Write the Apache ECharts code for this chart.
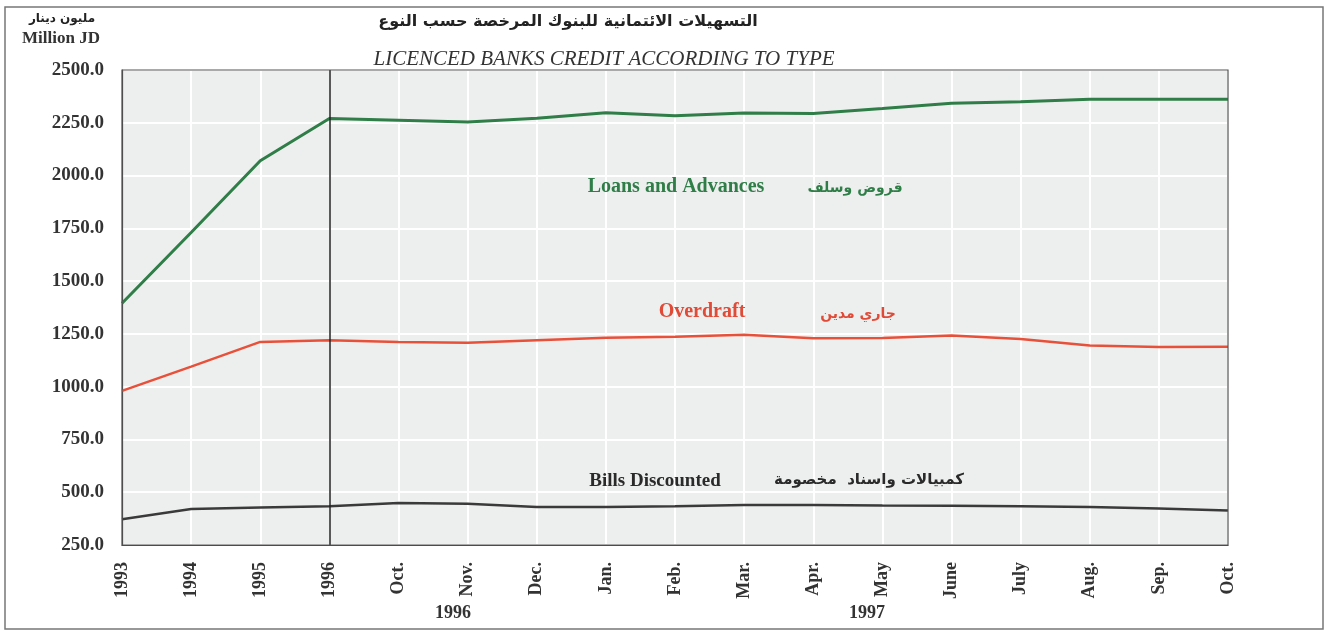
<!DOCTYPE html>
<html>
<head>
<meta charset="utf-8">
<script src="https://cdn.jsdelivr.net/npm/echarts@6/dist/echarts.min.js"></script>
<style>html,body{margin:0;padding:0;background:#fff;}#c{width:1330px;height:631px;}</style>
</head>
<body>
<div id="c"></div>
<script>
const categories = ['1993','1994','1995','1996','Oct.','Nov.','Dec.','Jan.','Feb.','Mar.','Apr.','May','June','July','Aug.','Sep.','Oct.'];
const loansAdvances = [1395, 1730, 2070, 2270, 2262, 2254, 2272, 2298, 2283, 2296, 2294, 2318, 2343, 2350, 2362, 2362, 2362];
const overdraft = [980, 1095, 1212, 1220, 1211, 1208, 1220, 1232, 1236, 1246, 1229, 1231, 1242, 1226, 1195, 1188, 1189];
const billsDiscounted = [372, 420, 428, 433, 449, 445, 430, 430, 434, 439, 439, 437, 436, 434, 430, 423, 414];
const yTicks = {min: 250, max: 2500, interval: 250};

const serif = '"Liberation Serif", "Times New Roman", serif';
const arabic = '"DejaVu Sans", sans-serif';
const chart = echarts.init(document.getElementById('c'));
const T = (x, y, text, font, fill) => ({type: 'text', x, y, z: 100, style: {text, font, fill, align: 'center', verticalAlign: 'middle'}});
chart.setOption({
  animation: false,
  backgroundColor: '#ffffff',
  grid: {left: 122, right: 102, top: 70, bottom: 86, show: true, backgroundColor: '#edefee', borderWidth: 0},
  xAxis: {
    type: 'category', data: categories, boundaryGap: false,
    axisLine: {lineStyle: {color: '#444', width: 1.2}},
    axisTick: {show: false},
    axisLabel: {rotate: 90, margin: 17, color: '#333', fontFamily: serif, fontWeight: 'bold', fontSize: 18, interval: 0},
    splitLine: {show: true, lineStyle: {color: '#ffffff', width: 2}}
  },
  yAxis: {
    type: 'value', min: yTicks.min, max: yTicks.max, interval: yTicks.interval,
    axisLine: {show: true, lineStyle: {color: '#444', width: 1.2}},
    axisTick: {show: false},
    axisLabel: {margin: 18, color: '#333', fontFamily: serif, fontWeight: 'bold', fontSize: 19, formatter: v => v.toFixed(1)},
    splitLine: {show: true, lineStyle: {color: '#ffffff', width: 2}}
  },
  series: [
    {name: 'Loans and Advances', type: 'line', data: loansAdvances, symbol: 'none', lineStyle: {color: '#2f7d47', width: 3}, itemStyle: {color: '#2f7d47'},
     markLine: {silent: true, symbol: 'none', label: {show: false}, lineStyle: {color: '#222', width: 1.5, type: 'solid'}, data: [{xAxis: '1996'}]}},
    {name: 'Overdraft', type: 'line', data: overdraft, symbol: 'none', lineStyle: {color: '#e8503a', width: 2.5}, itemStyle: {color: '#e8503a'}},
    {name: 'Bills Discounted', type: 'line', data: billsDiscounted, symbol: 'none', lineStyle: {color: '#3a3a3a', width: 2.5}, itemStyle: {color: '#3a3a3a'}}
  ],
  graphic: [
    {type: 'rect', shape: {x: 5, y: 7, width: 1318, height: 622}, style: {fill: 'none', stroke: '#777', lineWidth: 1.5}, z: -1},
    {type: 'rect', shape: {x: 122, y: 70, width: 1106, height: 475}, style: {fill: 'none', stroke: '#555', lineWidth: 1.2}, z: 50, silent: true},
    T(568, 22, 'التسهيلات الائتمانية للبنوك المرخصة حسب النوع', 'bold 16px ' + arabic, '#222'),
    T(604, 59, 'LICENCED BANKS CREDIT ACCORDING TO TYPE', 'italic 21px ' + serif, '#333'),
    T(62, 19, 'مليون دينار', 'bold 12px ' + arabic, '#222'),
    T(61, 39, 'Million JD', 'bold 17px ' + serif, '#333'),
    T(676, 187, 'Loans and Advances', 'bold 20px ' + serif, '#2f7d47'),
    T(855, 188, 'قروض وسلف', 'bold 14px ' + arabic, '#2f7d47'),
    T(702, 312, 'Overdraft', 'bold 20px ' + serif, '#e04a36'),
    T(858, 314, 'جاري مدين', 'bold 14px ' + arabic, '#e04a36'),
    T(655, 481, 'Bills Discounted', 'bold 19px ' + serif, '#2a2a2a'),
    T(869, 480, 'كمبيالات واسناد  مخصومة', 'bold 15px ' + arabic, '#2a2a2a'),
    T(453, 613, '1996', 'bold 18px ' + serif, '#333'),
    T(867, 613, '1997', 'bold 18px ' + serif, '#333')
  ]
});
</script>
</body>
</html>
